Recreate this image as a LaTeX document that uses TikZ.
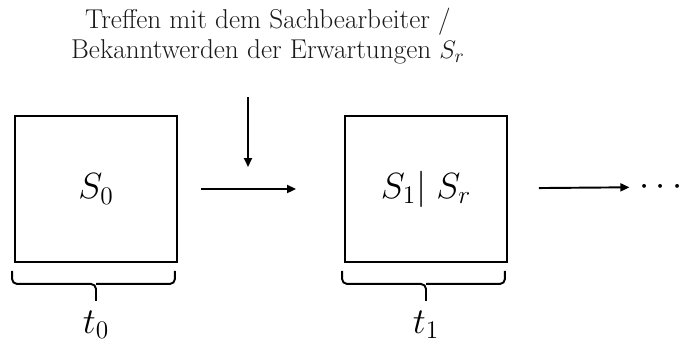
\documentclass[tikz,border=0pt]{standalone}
\usepackage{amsmath}
\usetikzlibrary{calc,arrows.meta,positioning}

\begin{document}
\begin{tikzpicture}[
    x=0.02cm, y=-0.02cm,
    stage/.style={draw, line width=1.1pt, minimum width=3.24cm, minimum height=2.92cm, inner sep=0pt, font=\fontsize{20}{24}\selectfont},
    arr/.style={-{Triangle[length=1.8mm, width=1.6mm]}, line width=1.1pt},
    brc/.style={line width=1.1pt, rounded corners=0.1cm},
    lbl/.style={font=\fontsize{20}{24}\selectfont}
]
    \useasboundingbox (0,0) rectangle (683,345);
    \node[font=\fontsize{15.5}{17}\selectfont, align=center, text=black!90] (event) at (268,36) {Treffen mit dem Sachbearbeiter /\\Bekanntwerden der Erwartungen $S_r$};
    \node[stage] (s0) at (96,189) {$S_0$};
    \node[stage] (s1) at (426,189) {$S_1|\; S_r$};
    \node[lbl, inner sep=0pt] (dots) at (664,187) {$\cdots$};

    % braces and time labels
    \foreach \s/\t in {s0/t_0, s1/t_1} {
        \draw[brc] ($(\s.south west)+(-2,8)$) |- ($(\s.south)+(0,21)$) -- ($(\s.south)+(0,38)$);
        \draw[brc] ($(\s.south east)+(-3,8)$) |- ($(\s.south)+(0,21)$);
        \node[lbl] (\s lbl) at ($(\s.south)+(0,62)$) {$\t$};
    }

    \coordinate (cin) at (248,97);
    \coordinate (cout) at (248,167);
    \draw[arr] (cin) -- (cout);
    \draw[arr, shorten <=0.46cm, shorten >=0.96cm] (s0) -- (s1);
    \draw[arr, shorten <=0.62cm, shorten >=0.2cm] (s1) -- (dots);
\end{tikzpicture}
\end{document}
